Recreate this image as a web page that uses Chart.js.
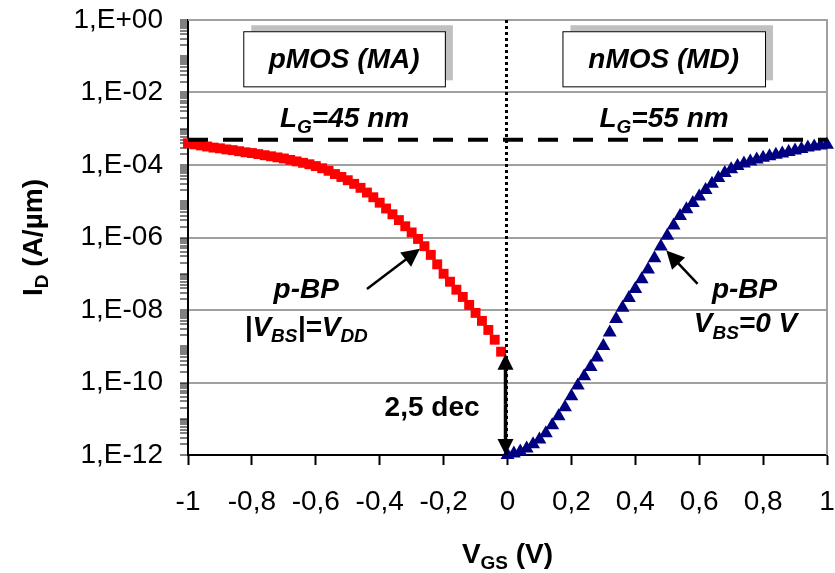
<!DOCTYPE html>
<html>
<head>
<meta charset="utf-8">
<script src="https://cdn.jsdelivr.net/npm/chart.js@4.4.1/dist/chart.umd.min.js"></script>
<style>
  html, body { margin: 0; padding: 0; background: #fff; }
  #wrap { width: 835px; height: 573px; }
</style>
</head>
<body>
<div id="wrap"><canvas id="chartIdVg" width="835" height="573"></canvas></div>
<script>
// pMOS (MA), L_G = 45 nm : V_GS (V) and log10(I_D) (A/um)
const vgsP = [-1.00, -0.98, -0.96, -0.94, -0.92, -0.90, -0.88, -0.86, -0.84, -0.82,
              -0.80, -0.78, -0.76, -0.74, -0.72, -0.70, -0.68, -0.66, -0.64, -0.62,
              -0.60, -0.58, -0.56, -0.54, -0.52, -0.50, -0.48, -0.46, -0.44, -0.42,
              -0.40, -0.38, -0.36, -0.34, -0.32, -0.30, -0.28, -0.26, -0.24, -0.22,
              -0.20, -0.18, -0.16, -0.14, -0.12, -0.10, -0.08, -0.06, -0.04, -0.02];
const logIdP = [-3.40, -3.43, -3.46, -3.49, -3.52, -3.54, -3.57, -3.59, -3.62, -3.65,
                -3.67, -3.70, -3.73, -3.76, -3.79, -3.82, -3.86, -3.90, -3.94, -3.98,
                -4.03, -4.09, -4.16, -4.25, -4.33, -4.42, -4.52, -4.63, -4.76, -4.89,
                -5.04, -5.20, -5.36, -5.52, -5.69, -5.86, -6.04, -6.24, -6.48, -6.74,
                -7.00, -7.22, -7.44, -7.64, -7.86, -8.08, -8.30, -8.55, -8.82, -9.15];

// nMOS (MD), L_G = 55 nm
const vgsN = [0.00, 0.02, 0.04, 0.06, 0.08, 0.10, 0.12, 0.14, 0.16, 0.18,
              0.20, 0.22, 0.24, 0.26, 0.28, 0.30, 0.32, 0.34, 0.36, 0.38,
              0.40, 0.42, 0.44, 0.46, 0.48, 0.50, 0.52, 0.54, 0.56, 0.58,
              0.60, 0.62, 0.64, 0.66, 0.68, 0.70, 0.72, 0.74, 0.76, 0.78,
              0.80, 0.82, 0.84, 0.86, 0.88, 0.90, 0.92, 0.94, 0.96, 0.98, 1.00];
const logIdN = [-12.00, -11.96, -11.90, -11.82, -11.70, -11.57, -11.40, -11.18, -10.93, -10.68,
                -10.38, -10.08, -9.83, -9.57, -9.31, -8.99, -8.62, -8.25, -7.94, -7.67,
                -7.42, -7.15, -6.88, -6.57, -6.25, -5.95, -5.67, -5.41, -5.22, -5.05,
                -4.87, -4.69, -4.52, -4.36, -4.22, -4.12, -4.03, -3.96, -3.90, -3.85,
                -3.80, -3.76, -3.72, -3.68, -3.64, -3.60, -3.56, -3.52, -3.49, -3.46, -3.44];

const ionLevel = 5e-4; // dashed reference line

const yTickValues = [1, 1e-2, 1e-4, 1e-6, 1e-8, 1e-10, 1e-12];
const yTickLabels = ['1,E+00', '1,E-02', '1,E-04', '1,E-06', '1,E-08', '1,E-10', '1,E-12'];
const xTickValues = [-1, -0.8, -0.6, -0.4, -0.2, 0, 0.2, 0.4, 0.6, 0.8, 1];
const xTickLabels = ['-1', '-0,8', '-0,6', '-0,4', '-0,2', '0', '0,2', '0,4', '0,6', '0,8', '1'];

const FONT = '"Liberation Sans", Arial, sans-serif';

function labelIndex(v) {
  return yTickValues.findIndex(t => Math.abs(v - t) / t < 1e-6);
}

// text with subscripts: parts = [[text, isSub], ...]
function richText(ctx, parts, x, y, size, style, align) {
  const big = style + ' ' + size + 'px ' + FONT;
  const small = style + ' ' + Math.round(size * 0.68) + 'px ' + FONT;
  let w = 0;
  parts.forEach(p => { ctx.font = p[1] ? small : big; w += ctx.measureText(p[0]).width; });
  let cx = align === 'center' ? x - w / 2 : x;
  ctx.textAlign = 'left';
  ctx.textBaseline = 'alphabetic';
  parts.forEach(p => {
    ctx.font = p[1] ? small : big;
    ctx.fillText(p[0], cx, p[1] ? y + size * 0.22 : y);
    cx += ctx.measureText(p[0]).width;
  });
}

function arrow(ctx, x1, y1, x2, y2, head, width) {
  const a = Math.atan2(y2 - y1, x2 - x1);
  ctx.beginPath();
  ctx.moveTo(x1, y1);
  ctx.lineTo(x2 - Math.cos(a) * head * 0.8, y2 - Math.sin(a) * head * 0.8);
  ctx.lineWidth = width;
  ctx.stroke();
  ctx.beginPath();
  ctx.moveTo(x2, y2);
  ctx.lineTo(x2 - head * Math.cos(a) + head * 0.5 * Math.sin(a), y2 - head * Math.sin(a) - head * 0.5 * Math.cos(a));
  ctx.lineTo(x2 - head * Math.cos(a) - head * 0.5 * Math.sin(a), y2 - head * Math.sin(a) + head * 0.5 * Math.cos(a));
  ctx.closePath();
  ctx.fill();
}

const frame = {
  id: 'frame',
  beforeDatasetsDraw(chart) {
    const { ctx, chartArea: a } = chart;
    ctx.save();
    ctx.strokeStyle = '#a0a0a0';
    ctx.lineWidth = 2;
    ctx.beginPath();
    ctx.moveTo(a.left, a.top);
    ctx.lineTo(a.right, a.top);
    ctx.lineTo(a.right, a.bottom);
    ctx.stroke();
    ctx.restore();
  },
  afterDatasetsDraw(chart) {
    const { ctx, chartArea: a, scales } = chart;
    const px = v => scales.x.getPixelForValue(v);
    const py = lg => scales.y.getPixelForValue(Math.pow(10, lg));
    ctx.save();
    ctx.fillStyle = '#000';
    ctx.strokeStyle = '#000';

    // dashed I_on level
    const yd = scales.y.getPixelForValue(ionLevel);
    ctx.setLineDash([20, 15]);
    ctx.lineWidth = 4;
    ctx.beginPath();
    ctx.moveTo(a.left, yd);
    ctx.lineTo(a.right, yd);
    ctx.stroke();

    // dotted V_GS = 0 line
    ctx.setLineDash([3, 3]);
    ctx.lineWidth = 3;
    ctx.beginPath();
    ctx.moveTo(px(0) - 1, a.top);
    ctx.lineTo(px(0) - 1, a.bottom);
    ctx.stroke();
    ctx.setLineDash([]);

    // boxes
    [['pMOS (MA)', -0.827, -0.196], ['nMOS (MD)', 0.172, 0.806]].forEach(b => {
      const x0 = px(b[1]), x1 = px(b[2]), y0 = py(-0.31), y1 = py(-1.83);
      ctx.fillStyle = '#c0c0c0';
      ctx.fillRect(x0 + 8, y0 - 6, x1 - x0, y1 - y0);
      ctx.fillStyle = '#fff';
      ctx.fillRect(x0, y0, x1 - x0, y1 - y0);
      ctx.lineWidth = 1;
      ctx.strokeRect(x0 + 0.5, y0 + 0.5, x1 - x0, y1 - y0);
      ctx.fillStyle = '#000';
      ctx.font = 'italic bold 28px ' + FONT;
      ctx.textAlign = 'center';
      ctx.textBaseline = 'middle';
      ctx.fillText(b[0], (x0 + x1) / 2, (y0 + y1) / 2 + 1);
    });

    // L_G labels
    richText(ctx, [['L', false], ['G', true], ['=45 nm', false]], px(-0.51), py(-2.96), 28, 'italic bold', 'center');
    richText(ctx, [['L', false], ['G', true], ['=55 nm', false]], px(0.49), py(-2.96), 28, 'italic bold', 'center');

    // pMOS note
    richText(ctx, [['p-BP', false]], px(-0.63), py(-7.66), 28, 'italic bold', 'center');
    richText(ctx, [['|V', false], ['BS', true], ['|=V', false], ['DD', true]], px(-0.63), py(-8.72), 28, 'italic bold', 'center');
    arrow(ctx, px(-0.44), py(-7.42), px(-0.274), py(-6.31), 18, 2.5);

    // nMOS note
    richText(ctx, [['p-BP', false]], px(0.742), py(-7.66), 28, 'italic bold', 'center');
    richText(ctx, [['V', false], ['BS', true], ['=0 V', false]], px(0.745), py(-8.62), 28, 'italic bold', 'center');
    arrow(ctx, px(0.595), py(-7.28), px(0.497), py(-6.36), 18, 2.5);

    // 2,5 dec double arrow
    const xa = px(0) - 2;
    const yTop = py(logIdP[logIdP.length - 1]) + 2;
    const yBot = py(-12);
    arrow(ctx, xa, (yTop + yBot) / 2, xa, yTop, 16, 3.5);
    arrow(ctx, xa, (yTop + yBot) / 2, xa, yBot, 16, 3.5);
    richText(ctx, [['2,5 dec', false]], px(-0.236), py(-10.92), 28, 'bold', 'center');

    // axis titles
    ctx.save();
    ctx.translate(32, (a.top + a.bottom) / 2);
    ctx.rotate(-Math.PI / 2);
    richText(ctx, [['I', false], ['D', true], [' (A/\u00b5m)', false]], 0, 10, 28, 'bold', 'center');
    ctx.restore();
    richText(ctx, [['V', false], ['GS', true], [' (V)', false]], px(0), 563, 28, 'bold', 'center');

    ctx.restore();
  }
};

new Chart(document.getElementById('chartIdVg'), {
  type: 'scatter',
  data: {
    datasets: [{
      label: 'pMOS',
      data: vgsP.map((v, i) => ({ x: v, y: Math.pow(10, logIdP[i]) })),
      pointStyle: 'rect',
      pointRadius: 7,
      pointBackgroundColor: '#ff0000',
      pointBorderColor: '#ff0000',
      pointBorderWidth: 0,
      showLine: false,
      clip: false
    }, {
      label: 'nMOS',
      data: vgsN.map((v, i) => ({ x: v, y: Math.pow(10, logIdN[i]) })),
      pointStyle: 'triangle',
      pointRadius: 8,
      pointBackgroundColor: '#000080',
      pointBorderColor: '#000080',
      pointBorderWidth: 0,
      showLine: false,
      clip: false
    }]
  },
  options: {
    responsive: false,
    animation: false,
    layout: { padding: { top: 20, right: 3, left: 0, bottom: 0 } },
    plugins: { legend: { display: false }, tooltip: { enabled: false } },
    scales: {
      x: {
        type: 'linear',
        min: -1,
        max: 1,
        afterBuildTicks: s => { s.ticks = xTickValues.map(v => ({ value: v })); },
        afterFit: s => { s.height = 118; s.paddingLeft = 0; s.paddingRight = 0; },
        ticks: {
          autoSkip: false,
          maxRotation: 0,
          padding: 20,
          color: '#000',
          font: { family: FONT, size: 28 },
          callback: (v, i) => xTickLabels[i]
        },
        grid: { drawOnChartArea: false, tickColor: '#000', tickLength: 10, tickWidth: 2 },
        border: { color: '#000', width: 2 }
      },
      y: {
        type: 'logarithmic',
        min: 1e-12,
        max: 1,
        afterBuildTicks: s => {
          const t = [];
          for (let e = -12; e <= 0; e++) {
            for (let m = 1; m <= 9; m++) {
              if (e === 0 && m > 1) break;
              t.push({ value: m * Math.pow(10, e) });
            }
          }
          s.ticks = t;
        },
        afterFit: s => { s.width = 188; s.paddingTop = 0; s.paddingBottom = 0; },
        ticks: {
          autoSkip: false,
          padding: 17,
          color: '#000',
          font: { family: FONT, size: 28 },
          callback: v => { const i = labelIndex(v); return i < 0 ? '' : yTickLabels[i]; }
        },
        grid: {
          color: c => (c.tick && labelIndex(c.tick.value) > 0 && labelIndex(c.tick.value) < yTickValues.length - 1) ? '#a0a0a0' : 'rgba(0,0,0,0)',
          lineWidth: 2,
          tickColor: '#000',
          tickLength: 8,
          tickWidth: 1
        },
        border: { color: '#000', width: 2 }
      }
    }
  },
  plugins: [frame]
});
</script>
</body>
</html>
